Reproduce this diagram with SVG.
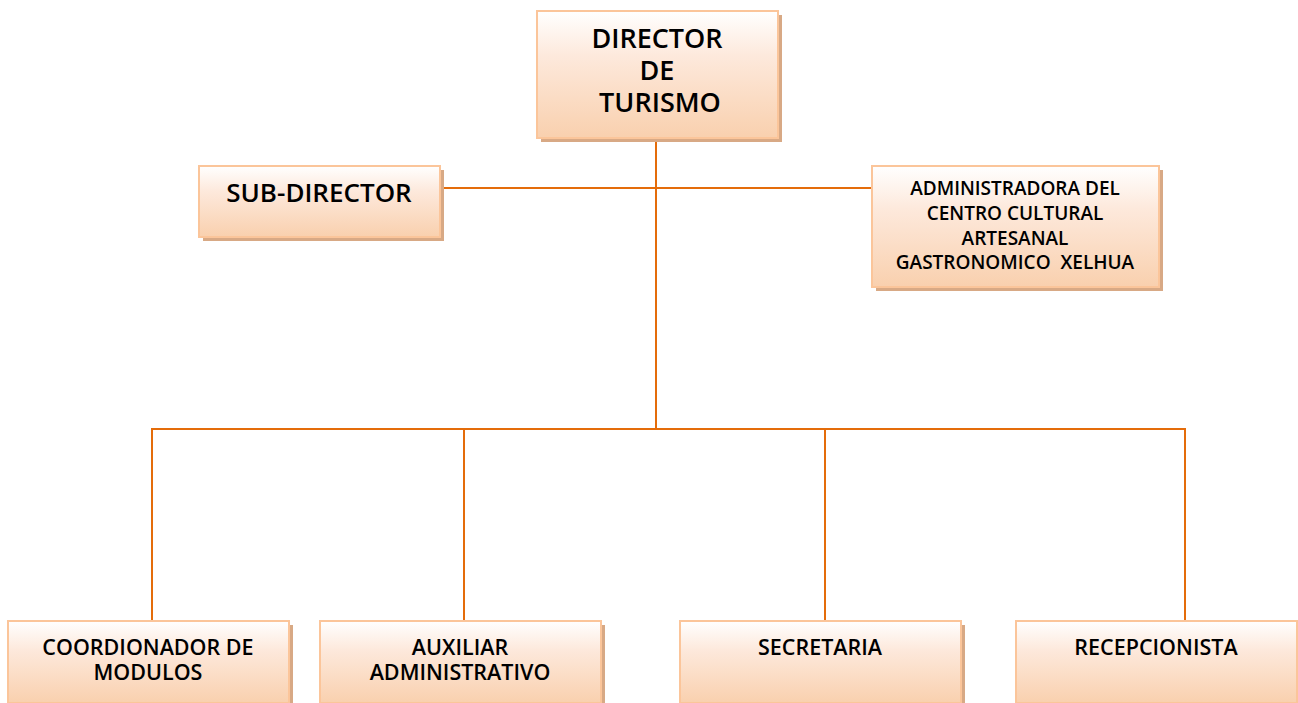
<svg xmlns="http://www.w3.org/2000/svg" width="1298" height="703" viewBox="0 0 1298 703">
<defs>
<linearGradient id="g" x1="0" y1="0" x2="0" y2="1">
<stop offset="0" stop-color="#ffffff"/>
<stop offset="0.35" stop-color="#fde9dc"/>
<stop offset="1" stop-color="#f9d0ae"/>
</linearGradient>
<style>
.box{fill:url(#g);stroke:#fbc59a;stroke-width:2}
.sh{fill:#d8a985}
.ln{stroke:#e46c0a;stroke-width:2;fill:none}
text{font-family:"Open Sans","Liberation Sans",sans-serif;font-weight:600;fill:#000;text-anchor:middle}
.t1{font-size:27px}
.t2{font-size:26px}
.t3{font-size:19px}
.t4{font-size:21.5px}
</style>
</defs>
<rect width="1298" height="703" fill="#fff"/>
<g id="connectors">
<line class="ln" x1="656" y1="140" x2="656" y2="430"/>
<line class="ln" x1="441" y1="188" x2="872" y2="188"/>
<line class="ln" x1="151" y1="429" x2="1186" y2="429"/>
<line class="ln" x1="152" y1="428" x2="152" y2="621"/>
<line class="ln" x1="464" y1="428" x2="464" y2="621"/>
<line class="ln" x1="825" y1="428" x2="825" y2="621"/>
<line class="ln" x1="1185" y1="428" x2="1185" y2="621"/>
</g>
<g id="director">
<rect class="sh" x="541" y="15" width="241" height="127"/>
<rect class="box" x="537" y="11" width="241" height="127"/>
<text class="t1" x="657" y="48">DIRECTOR</text>
<text class="t1" x="657" y="80">DE</text>
<text class="t1" x="660" y="112">TURISMO</text>
</g>
<g id="subdirector">
<rect class="sh" x="203" y="170" width="241" height="71"/>
<rect class="box" x="199" y="166" width="241" height="71"/>
<text class="t2" x="319" y="202">SUB-DIRECTOR</text>
</g>
<g id="administradora">
<rect class="sh" x="876" y="170" width="287" height="121"/>
<rect class="box" x="872" y="166" width="287" height="121"/>
<text class="t3" x="1015" y="195">ADMINISTRADORA DEL</text>
<text class="t3" x="1015" y="220">CENTRO CULTURAL</text>
<text class="t3" x="1015" y="245">ARTESANAL</text>
<text class="t3" x="1015" y="269" xml:space="preserve">GASTRONOMICO  XELHUA</text>
</g>
<g id="coordinador">
<rect class="sh" x="12" y="625" width="281" height="82"/>
<rect class="box" x="8" y="621" width="281" height="82"/>
<text class="t4" x="148" y="655">COORDIONADOR DE</text>
<text class="t4" x="148" y="680">MODULOS</text>
</g>
<g id="auxiliar">
<rect class="sh" x="324" y="625" width="281" height="82"/>
<rect class="box" x="320" y="621" width="281" height="82"/>
<text class="t4" x="460" y="655">AUXILIAR</text>
<text class="t4" x="460" y="680">ADMINISTRATIVO</text>
</g>
<g id="secretaria">
<rect class="sh" x="684" y="625" width="281" height="82"/>
<rect class="box" x="680" y="621" width="281" height="82"/>
<text class="t4" x="820" y="655">SECRETARIA</text>
</g>
<g id="recepcionista">
<rect class="sh" x="1020" y="625" width="281" height="82"/>
<rect class="box" x="1016" y="621" width="281" height="82"/>
<text class="t4" x="1156" y="655">RECEPCIONISTA</text>
</g>
</svg>
